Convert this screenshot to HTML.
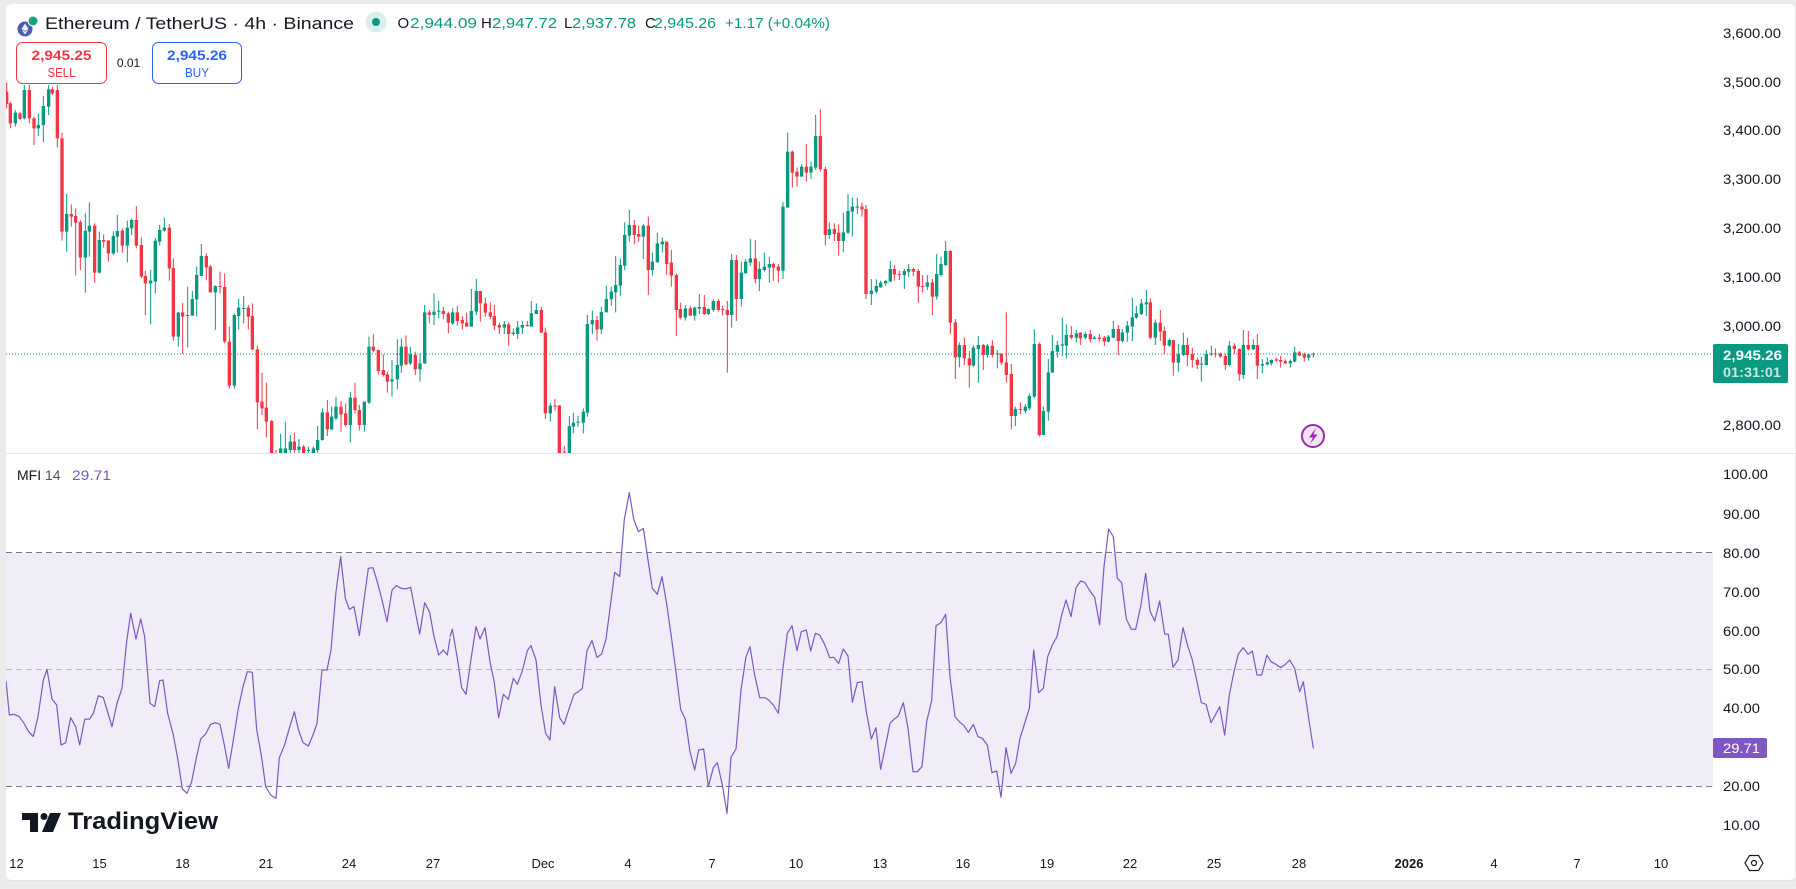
<!DOCTYPE html>
<html><head><meta charset="utf-8"><style>
html,body{margin:0;padding:0;background:#ebebeb;}
svg{display:block;font-family:"Liberation Sans",sans-serif;}
</style></head><body>
<svg width="1796" height="889" viewBox="0 0 1796 889" xmlns="http://www.w3.org/2000/svg">
<defs>
<clipPath id="cp"><rect x="6" y="4" width="1707" height="449"/></clipPath>
<clipPath id="cm"><rect x="6" y="454" width="1707" height="392"/></clipPath>
</defs>
<rect x="0" y="0" width="1796" height="889" fill="#ebebeb"/>
<rect x="6" y="4" width="1789" height="876" rx="6" fill="#ffffff"/>
<line x1="6" y1="453.5" x2="1795" y2="453.5" stroke="#e0e3eb" stroke-width="1"/>
<line x1="6" y1="880.5" x2="1795" y2="880.5" stroke="#e0e3eb" stroke-width="1"/>

<!-- price pane -->
<g clip-path="url(#cp)">
<line x1="6" y1="354" x2="1713" y2="354" stroke="#089981" stroke-width="1" stroke-dasharray="1 2"/>
<g transform="translate(0,60) scale(0.333333)">
<path fill="none" stroke="#f23645" stroke-width="3" d="M20 68V145 M31 125V205 M60 155V180 M88 75V190 M102 170V255 M157 80V105 M172 75V262 M186 218V542 M214 433V500 M227 445V646 M241 480V630 M284 490V668 M311 523V563 M325 540V605 M367 505V578 M409 438V565 M424 532V655 M436 632V765 M508 492V662 M520 595V842 M548 729V882 M619 580V660 M631 615V697 M660 635V700 M674 640V850 M688 800V986 M745 735V808 M757 730V870 M772 857V1108 M786 938V1065 M799 968V1132 M815 1080V1240 M828 1170V1250 M883 1118V1180 M911 1155V1195 M982 1020V1128 M1023 1023V1115 M1037 1030V1100 M1065 968V1060 M1078 1035V1112 M1120 822V877 M1135 868V943 M1150 883V950 M1162 935V998 M1218 826V916 M1246 875V945 M1288 750V790 M1330 740V778 M1345 755V820"/>
<path fill="#f23645" d="M15 95h10V132h-10Z M26 130h10V190h-10Z M55 160h10V177h-10Z M83 90h10V175h-10Z M97 175h10V205h-10Z M152 88h10V100h-10Z M167 90h10V235h-10Z M181 235h10V515h-10Z M209 462h10V470h-10Z M222 468h10V488h-10Z M236 486h10V593h-10Z M279 497h10V638h-10Z M306 540h10V545h-10Z M320 542h10V580h-10Z M362 512h10V557h-10Z M404 480h10V557h-10Z M419 555h10V650h-10Z M431 648h10V670h-10Z M503 503h10V625h-10Z M515 624h10V830h-10Z M543 757h10V770h-10Z M614 588h10V622h-10Z M626 620h10V697h-10Z M655 678h10V681h-10Z M669 681h10V845h-10Z M683 845h10V977h-10Z M740 743h10V770h-10Z M752 768h10V868h-10Z M767 868h10V1027h-10Z M781 1025h10V1045h-10Z M794 1043h10V1085h-10Z M810 1083h10V1190h-10Z M823 1185h10V1215h-10Z M878 1145h10V1170h-10Z M906 1160h10V1185h-10Z M977 1057h10V1108h-10Z M1018 1040h10V1063h-10Z M1032 1060h10V1095h-10Z M1060 1013h10V1050h-10Z M1073 1050h10V1095h-10Z M1115 860h10V872h-10Z M1130 870h10V933h-10Z M1145 930h10V945h-10Z M1157 943h10V965h-10Z M1213 860h10V913h-10Z M1241 885h10V928h-10Z M1283 757h10V765h-10Z M1325 753h10V762h-10Z M1340 760h10V788h-10Z"/>
<path fill="none" stroke="#089981" stroke-width="3" d="M46 150V200 M73 75V178 M115 160V228 M130 108V246 M146 75V165 M200 402V575 M256 460V698 M268 427V590 M298 515V640 M340 515V585 M352 465V578 M382 482V607 M395 476V525 M452 630V793 M466 534V700 M479 495V556 M493 473V515 M535 757V860 M563 680V862 M577 693V767 M590 620V770 M604 552V648 M646 676V810 M703 760V986 M716 716V808 M731 708V790 M842 1122V1200 M856 1085V1190 M871 1125V1180 M897 1137V1180 M925 1160V1190 M940 1160V1190 M953 1098V1180 M967 1045V1142 M995 1040V1110 M1008 1010V1080 M1051 996V1148 M1093 1025V1115 M1107 830V1032 M1176 900V1010 M1192 838V988 M1204 835V938 M1231 860V915 M1260 880V965 M1274 735V912 M1302 700V795 M1316 722V775"/>
<path fill="#089981" d="M41 158h10V190h-10Z M68 90h10V175h-10Z M110 195h10V205h-10Z M125 138h10V195h-10Z M141 88h10V140h-10Z M195 462h10V515h-10Z M251 513h10V593h-10Z M263 497h10V515h-10Z M293 540h10V638h-10Z M335 528h10V580h-10Z M347 513h10V530h-10Z M377 503h10V557h-10Z M390 480h10V505h-10Z M447 662h10V670h-10Z M461 542h10V665h-10Z M474 510h10V545h-10Z M488 503h10V512h-10Z M530 757h10V830h-10Z M558 765h10V768h-10Z M572 717h10V767h-10Z M585 645h10V718h-10Z M599 588h10V648h-10Z M641 678h10V697h-10Z M698 765h10V977h-10Z M711 743h10V768h-10Z M726 744h10V747h-10Z M837 1165h10V1190h-10Z M851 1165h10V1185h-10Z M866 1145h10V1170h-10Z M892 1160h10V1170h-10Z M920 1170h10V1173h-10Z M935 1165h10V1180h-10Z M948 1140h10V1170h-10Z M962 1057h10V1140h-10Z M990 1070h10V1108h-10Z M1003 1040h10V1075h-10Z M1046 1013h10V1095h-10Z M1088 1025h10V1095h-10Z M1102 860h10V1028h-10Z M1171 958h10V965h-10Z M1187 915h10V958h-10Z M1199 860h10V917h-10Z M1226 883h10V910h-10Z M1255 910h10V928h-10Z M1269 757h10V910h-10Z M1297 755h10V765h-10Z M1311 752h10V755h-10Z"/>
</g>
<g transform="translate(440,60) scale(0.333333)">
<path fill="none" stroke="#f23645" stroke-width="3" d="M52 738V797 M67 768V808 M80 758V800 M121 693V785 M136 713V770 M151 727V777 M163 735V810 M178 787V822 M206 787V857 M262 783V800 M304 740V818 M316 803V1077 M345 1017V1052 M358 1035V1230 M373 1158V1200 M471 768V842 M583 480V552 M596 497V545 M625 470V705 M680 545V645 M694 570V680 M709 640V828 M721 728V778 M751 738V768 M793 705V765 M835 717V755 M848 737V767 M862 723V938 M889 585V783 M946 540V670 M1000 608V663 M1015 612V667 M1057 272V383 M1071 322V380 M1099 252V365 M1141 148V335 M1156 320V557 M1183 490V543 M1196 493V587 M1266 427V470 M1278 435V717"/>
<path fill="#f23645" d="M47 757h10V783h-10Z M62 780h10V790h-10Z M75 788h10V800h-10Z M116 693h10V730h-10Z M131 730h10V758h-10Z M146 757h10V770h-10Z M158 768h10V797h-10Z M173 795h10V803h-10Z M201 793h10V822h-10Z M257 795h10V798h-10Z M299 750h10V818h-10Z M311 817h10V1060h-10Z M340 1037h10V1040h-10Z M353 1037h10V1200h-10Z M368 1175h10V1178h-10Z M466 780h10V808h-10Z M578 495h10V525h-10Z M591 522h10V530h-10Z M620 497h10V630h-10Z M675 545h10V612h-10Z M689 608h10V647h-10Z M704 645h10V750h-10Z M716 747h10V773h-10Z M746 745h10V767h-10Z M788 741h10V762h-10Z M830 723h10V750h-10Z M843 747h10V750h-10Z M857 750h10V765h-10Z M884 600h10V717h-10Z M941 595h10V657h-10Z M995 612h10V623h-10Z M1010 620h10V632h-10Z M1052 275h10V338h-10Z M1066 335h10V350h-10Z M1094 320h10V338h-10Z M1136 228h10V328h-10Z M1151 327h10V525h-10Z M1178 507h10V522h-10Z M1191 518h10V543h-10Z M1261 440h10V448h-10Z M1273 447h10V702h-10Z"/>
<path fill="none" stroke="#089981" stroke-width="3" d="M38 745V795 M94 687V800 M109 657V765 M193 783V822 M220 805V827 M233 783V837 M247 783V822 M274 723V800 M289 730V762 M331 1030V1085 M388 1068V1200 M400 1058V1120 M414 1068V1100 M430 1045V1120 M442 765V1070 M457 752V822 M484 740V822 M499 677V757 M514 680V737 M527 588V757 M541 595V707 M554 487V630 M568 450V545 M610 492V597 M637 578V647 M652 518V607 M667 533V578 M736 735V782 M764 740V782 M778 702V762 M805 745V765 M820 718V755 M875 582V803 M904 605V740 M917 597V640 M931 537V617 M958 605V693 M973 578V635 M988 590V668 M1029 427V657 M1043 218V443 M1085 312V350 M1113 305V357 M1127 165V330 M1168 487V537 M1210 458V577 M1224 402V522 M1237 413V530 M1252 413V462 M1294 657V735 M1309 658V700 M1322 662V683"/>
<path fill="#089981" d="M33 757h10V790h-10Z M89 753h10V800h-10Z M104 693h10V755h-10Z M188 793h10V803h-10Z M215 818h10V822h-10Z M228 802h10V822h-10Z M242 795h10V803h-10Z M269 760h10V800h-10Z M284 750h10V762h-10Z M326 1037h10V1060h-10Z M383 1098h10V1190h-10Z M395 1088h10V1100h-10Z M409 1085h10V1088h-10Z M425 1055h10V1088h-10Z M437 792h10V1058h-10Z M452 780h10V793h-10Z M479 756h10V808h-10Z M494 717h10V757h-10Z M509 695h10V718h-10Z M522 675h10V697h-10Z M536 615h10V677h-10Z M549 525h10V617h-10Z M563 495h10V527h-10Z M605 497h10V530h-10Z M632 605h10V630h-10Z M647 550h10V607h-10Z M662 545h10V553h-10Z M731 745h10V773h-10Z M759 743h10V767h-10Z M773 741h10V746h-10Z M800 747h10V762h-10Z M815 723h10V750h-10Z M870 600h10V765h-10Z M899 638h10V717h-10Z M912 605h10V640h-10Z M926 595h10V608h-10Z M953 627h10V657h-10Z M968 620h10V630h-10Z M983 612h10V623h-10Z M1024 440h10V632h-10Z M1038 275h10V443h-10Z M1080 320h10V350h-10Z M1108 320h10V338h-10Z M1122 228h10V323h-10Z M1163 507h10V525h-10Z M1205 517h10V543h-10Z M1219 453h10V518h-10Z M1232 440h10V455h-10Z M1247 440h10V443h-10Z M1289 692h10V702h-10Z M1304 678h10V695h-10Z M1317 668h10V682h-10Z"/>
</g>
<g transform="translate(880,60) scale(0.333333)">
<path fill="none" stroke="#f23645" stroke-width="3" d="M43 615V662 M58 632V660 M100 623V648 M115 627V728 M128 645V698 M157 657V765 M211 570V822 M226 777V957 M253 833V915 M268 873V983 M310 852V930 M337 840V893 M364 880V915 M379 757V968 M394 912V1108 M421 1027V1063 M478 848V1130 M574 798V838 M601 817V855 M631 810V847 M658 822V845 M673 828V858 M715 795V885 M811 715V838 M841 750V843 M853 800V883 M880 840V947 M922 833V918 M937 863V923 M952 892V927 M1006 865V893 M1021 878V893 M1036 882V930 M1063 850V882 M1078 865V962 M1105 813V872 M1132 822V957 M1189 893V907 M1202 888V923 M1216 898V912 M1258 873V888 M1273 878V905"/>
<path fill="#f23645" d="M38 627h10V643h-10Z M53 642h10V645h-10Z M95 627h10V635h-10Z M110 633h10V680h-10Z M123 678h10V681h-10Z M152 667h10V710h-10Z M206 573h10V788h-10Z M221 787h10V892h-10Z M248 855h10V895h-10Z M263 895h10V917h-10Z M305 855h10V885h-10Z M332 857h10V885h-10Z M359 880h10V908h-10Z M374 907h10V945h-10Z M389 942h10V1068h-10Z M416 1047h10V1050h-10Z M473 852h10V1125h-10Z M569 825h10V833h-10Z M596 818h10V835h-10Z M626 822h10V838h-10Z M653 833h10V837h-10Z M668 833h10V845h-10Z M710 807h10V843h-10Z M806 727h10V833h-10Z M836 788h10V815h-10Z M848 813h10V857h-10Z M875 840h10V908h-10Z M917 855h10V885h-10Z M932 882h10V900h-10Z M947 900h10V915h-10Z M1001 880h10V883h-10Z M1016 880h10V890h-10Z M1031 888h10V915h-10Z M1058 857h10V867h-10Z M1073 867h10V943h-10Z M1100 855h10V868h-10Z M1127 855h10V917h-10Z M1184 898h10V902h-10Z M1197 900h10V905h-10Z M1211 903h10V910h-10Z M1253 877h10V887h-10Z M1268 883h10V893h-10Z"/>
<path fill="none" stroke="#089981" stroke-width="3" d="M17 660V677 M31 603V665 M73 627V687 M86 612V650 M142 645V690 M170 582V718 M183 590V650 M197 543V618 M238 847V922 M280 855V920 M295 828V968 M322 852V893 M352 870V925 M406 1040V1098 M436 1033V1060 M448 1000V1050 M463 808V1015 M490 1040V1125 M505 897V1082 M517 825V938 M532 843V893 M547 773V888 M559 793V895 M589 810V847 M616 815V838 M643 828V838 M685 825V847 M700 783V835 M727 807V848 M742 783V845 M757 713V843 M769 738V775 M784 717V765 M799 690V768 M826 778V855 M868 835V860 M895 852V935 M910 818V888 M964 890V965 M979 870V917 M994 857V888 M1048 843V920 M1090 810V957 M1120 838V870 M1147 897V940 M1162 892V917 M1174 898V917 M1231 898V923 M1244 860V907 M1286 880V902 M1300 878V893"/>
<path fill="#089981" d="M12 663h10V670h-10Z M26 627h10V665h-10Z M68 633h10V645h-10Z M81 627h10V635h-10Z M137 667h10V680h-10Z M165 642h10V710h-10Z M178 612h10V645h-10Z M192 573h10V615h-10Z M233 855h10V892h-10Z M275 863h10V917h-10Z M290 855h10V867h-10Z M317 857h10V885h-10Z M347 880h10V883h-10Z M401 1047h10V1068h-10Z M431 1040h10V1053h-10Z M443 1008h10V1045h-10Z M458 852h10V1010h-10Z M485 1053h10V1125h-10Z M500 937h10V1055h-10Z M512 873h10V938h-10Z M527 855h10V875h-10Z M542 853h10V857h-10Z M554 825h10V857h-10Z M584 820h10V833h-10Z M611 822h10V833h-10Z M638 833h10V837h-10Z M680 830h10V845h-10Z M695 807h10V833h-10Z M722 817h10V843h-10Z M737 797h10V818h-10Z M752 772h10V800h-10Z M764 760h10V773h-10Z M779 730h10V762h-10Z M794 727h10V733h-10Z M821 788h10V833h-10Z M863 840h10V857h-10Z M890 883h10V908h-10Z M905 855h10V885h-10Z M959 911h10V914h-10Z M974 882h10V915h-10Z M989 880h10V883h-10Z M1043 857h10V915h-10Z M1085 855h10V945h-10Z M1115 855h10V868h-10Z M1142 912h10V917h-10Z M1157 907h10V913h-10Z M1169 900h10V910h-10Z M1226 903h10V910h-10Z M1239 877h10V905h-10Z M1281 883h10V893h-10Z M1295 881h10V884h-10Z"/>
</g>
</g>

<!-- header -->
<circle cx="25" cy="29" r="7.5" fill="#4b5bb5"/>
<path d="M25 23.5 L28.5 29 L25 31 L21.5 29 Z M25 31.8 L28.5 29.8 L25 34.5 L21.5 29.8 Z" fill="#ffffff" opacity="0.9"/>
<circle cx="33" cy="21" r="5" fill="#1ea182" stroke="#ffffff" stroke-width="1"/>
<text x="45" y="29" font-size="17" fill="#131722" textLength="309" lengthAdjust="spacingAndGlyphs">Ethereum / TetherUS · 4h · Binance</text>
<circle cx="376" cy="22" r="10.5" fill="#d9efeb"/>
<circle cx="376" cy="22" r="4" fill="#089981"/>
<g font-size="15">
<text x="397.5" y="28" fill="#131722">O</text>
<text x="410" y="28" fill="#089981" textLength="67" lengthAdjust="spacingAndGlyphs">2,944.09</text>
<text x="481" y="28" fill="#131722">H</text>
<text x="492" y="28" fill="#089981" textLength="65" lengthAdjust="spacingAndGlyphs">2,947.72</text>
<text x="564" y="28" fill="#131722">L</text>
<text x="572" y="28" fill="#089981" textLength="64" lengthAdjust="spacingAndGlyphs">2,937.78</text>
<text x="645" y="28" fill="#131722">C</text>
<text x="654" y="28" fill="#089981" textLength="62" lengthAdjust="spacingAndGlyphs">2,945.26</text>
<text x="725" y="28" fill="#089981" textLength="105" lengthAdjust="spacingAndGlyphs">+1.17 (+0.04%)</text>
</g>

<!-- sell / buy -->
<rect x="16.5" y="42.5" width="90" height="41" rx="6" fill="#ffffff" fill-opacity="0.92" stroke="#f23645" stroke-width="1"/>
<text x="61.5" y="60" font-size="14" font-weight="bold" fill="#f23645" text-anchor="middle" textLength="60" lengthAdjust="spacingAndGlyphs">2,945.25</text>
<text x="61.5" y="77" font-size="13" fill="#f23645" text-anchor="middle" textLength="28" lengthAdjust="spacingAndGlyphs">SELL</text>
<text x="128.5" y="67" font-size="12" fill="#131722" text-anchor="middle">0.01</text>
<rect x="152.5" y="42.5" width="89" height="41" rx="6" fill="#ffffff" fill-opacity="0.92" stroke="#2962ff" stroke-width="1"/>
<text x="197" y="60" font-size="14" font-weight="bold" fill="#2962ff" text-anchor="middle" textLength="60" lengthAdjust="spacingAndGlyphs">2,945.26</text>
<text x="197" y="77" font-size="13" fill="#2962ff" text-anchor="middle" textLength="24" lengthAdjust="spacingAndGlyphs">BUY</text>

<!-- price axis -->
<g font-size="14" fill="#131722">
<text x="1723" y="38" textLength="58" lengthAdjust="spacingAndGlyphs">3,600.00</text>
<text x="1723" y="87" textLength="58" lengthAdjust="spacingAndGlyphs">3,500.00</text>
<text x="1723" y="135" textLength="58" lengthAdjust="spacingAndGlyphs">3,400.00</text>
<text x="1723" y="184" textLength="58" lengthAdjust="spacingAndGlyphs">3,300.00</text>
<text x="1723" y="233" textLength="58" lengthAdjust="spacingAndGlyphs">3,200.00</text>
<text x="1723" y="282" textLength="58" lengthAdjust="spacingAndGlyphs">3,100.00</text>
<text x="1723" y="331" textLength="58" lengthAdjust="spacingAndGlyphs">3,000.00</text>
<text x="1723" y="430" textLength="58" lengthAdjust="spacingAndGlyphs">2,800.00</text>
</g>
<rect x="1713" y="344" width="75" height="39" rx="2" fill="#089981"/>
<text x="1723" y="360" font-size="14" font-weight="bold" fill="#ffffff" textLength="59" lengthAdjust="spacingAndGlyphs">2,945.26</text>
<text x="1723" y="377" font-size="14" font-weight="bold" fill="#c4e8e0" textLength="58" lengthAdjust="spacingAndGlyphs">01:31:01</text>

<!-- lightning icon -->
<circle cx="1313" cy="436" r="11" fill="#f3e5f5" stroke="#9c27b0" stroke-width="2"/>
<path d="M1316 428 L1309 437.5 L1313 437.5 L1310 444 L1317.5 434.5 L1313.5 434.5 Z" fill="#9c27b0"/>

<!-- MFI pane -->
<g clip-path="url(#cm)">
<rect x="6" y="552.5" width="1707" height="234" fill="#f0ecf8"/>
<line x1="6" y1="552.5" x2="1713" y2="552.5" stroke="#787b86" stroke-width="1" stroke-dasharray="6 4"/>
<line x1="6" y1="669.5" x2="1713" y2="669.5" stroke="#b8bac2" stroke-width="1" stroke-dasharray="6 4"/>
<line x1="6" y1="786.5" x2="1713" y2="786.5" stroke="#787b86" stroke-width="1" stroke-dasharray="6 4"/>
<g transform="translate(0,460) scale(0.333333)" fill="none" stroke="#7e57c2" stroke-width="3.6" stroke-linejoin="round">
<polyline points="18,662 28,765 42,763 58,770 72,790 86,815 100,830 114,770 130,660 141,628 156,717 170,735 183,855 197,848 212,773 227,800 239,855 254,778 269,777 280,760 295,707 310,713 336,800 351,730 366,685 380,545 392,460 408,537 422,477 434,530 450,730 464,740 479,662 489,660 503,760 520,825 533,895 547,987 561,1000 575,965 589,893 602,837 617,822 632,793 646,788 660,793 673,855 686,925 700,840 715,745 729,680 742,635 757,637 770,808 785,893 797,980 812,1005 828,1015 838,893 853,857 868,805 883,755 895,808 909,848 925,858 939,825 951,790 966,630 981,630 993,570 1008,395 1022,290 1036,415 1048,448 1062,440 1078,527 1092,420 1105,325 1119,323 1133,370 1146,420 1161,485 1176,390 1189,377 1203,385 1217,387 1232,382 1245,450 1259,522 1274,428 1289,457 1301,525 1316,585 1330,570 1342,585 1350,535"/>
</g>
<g transform="translate(440,460) scale(0.333333)" fill="none" stroke="#7e57c2" stroke-width="3.6" stroke-linejoin="round">
<polyline points="30,530 37,508 52,595 65,683 78,703 93,598 108,500 120,537 135,503 150,605 163,668 176,773 190,703 205,718 220,655 232,673 247,633 262,572 273,557 288,600 303,735 317,820 330,840 344,680 359,773 372,793 386,750 402,703 415,695 427,685 441,572 456,542 471,592 485,582 498,537 512,430 524,337 539,350 553,178 568,98 581,177 595,215 610,205 624,300 637,385 652,403 666,350 680,432 694,530 708,637 722,748 736,778 750,875 764,930 776,870 791,867 805,980 820,923 832,908 847,975 861,1060 873,892 888,867 903,690 918,590 930,560 944,645 959,713 974,713 986,720 1000,735 1015,760 1029,623 1042,520 1056,497 1071,572 1084,515 1099,510 1112,573 1126,520 1139,525 1154,553 1169,593 1181,592 1196,610 1210,567 1224,588 1237,727 1252,668 1266,665 1279,755 1294,837 1308,803 1322,928 1336,860 1350,790"/>
</g>
<g transform="translate(880,460) scale(0.333333)" fill="none" stroke="#7e57c2" stroke-width="3.6" stroke-linejoin="round">
<polyline points="30,790 42,778 55,768 70,728 84,805 99,935 112,935 126,920 140,785 155,722 168,497 183,488 197,463 210,650 225,770 238,785 252,797 265,817 280,793 294,830 307,835 322,855 336,938 350,933 363,1012 378,863 393,940 407,910 420,835 434,790 448,745 461,570 476,698 490,685 503,590 517,555 531,530 545,465 558,420 573,470 588,383 602,363 614,367 628,390 644,412 659,495 672,320 686,207 700,230 712,355 725,368 739,477 754,508 767,508 782,440 797,340 810,453 824,483 839,423 854,522 865,523 879,622 894,600 909,503 923,557 937,600 951,665 964,728 978,733 993,788 1006,765 1019,740 1034,825 1048,705 1062,635 1075,582 1090,563 1104,583 1117,573 1131,645 1145,645 1161,585 1173,605 1188,613 1202,623 1216,613 1229,600 1244,625 1259,695 1270,665 1286,775 1300,865"/>
</g>
</g>
<text x="17" y="480" font-size="14" fill="#131722">MFI <tspan fill="#50535e">14</tspan></text>
<text x="72" y="480" font-size="14" fill="#7e57c2" textLength="39" lengthAdjust="spacingAndGlyphs">29.71</text>

<!-- MFI axis -->
<g font-size="14" fill="#131722">
<text x="1723" y="479" textLength="45" lengthAdjust="spacingAndGlyphs">100.00</text>
<text x="1723" y="519" textLength="37" lengthAdjust="spacingAndGlyphs">90.00</text>
<text x="1723" y="558" textLength="37" lengthAdjust="spacingAndGlyphs">80.00</text>
<text x="1723" y="597" textLength="37" lengthAdjust="spacingAndGlyphs">70.00</text>
<text x="1723" y="636" textLength="37" lengthAdjust="spacingAndGlyphs">60.00</text>
<text x="1723" y="674" textLength="37" lengthAdjust="spacingAndGlyphs">50.00</text>
<text x="1723" y="713" textLength="37" lengthAdjust="spacingAndGlyphs">40.00</text>
<text x="1723" y="791" textLength="37" lengthAdjust="spacingAndGlyphs">20.00</text>
<text x="1723" y="830" textLength="37" lengthAdjust="spacingAndGlyphs">10.00</text>
</g>
<rect x="1713" y="738" width="54" height="20" rx="2" fill="#7e57c2"/>
<text x="1723" y="753" font-size="14" fill="#ffffff" textLength="37" lengthAdjust="spacingAndGlyphs">29.71</text>

<!-- TradingView logo -->
<path d="M22 813 H38 V832 H30 V820 H22 Z" fill="#131722"/>
<circle cx="44" cy="816.5" r="3.5" fill="#131722"/>
<path d="M50 813 H61 L53 832 H42 Z" fill="#131722"/>
<text x="68" y="829" font-size="24" font-weight="bold" fill="#131722" textLength="150" lengthAdjust="spacingAndGlyphs">TradingView</text>

<!-- time axis -->
<g font-size="13" fill="#131722" text-anchor="middle">
<text x="16.5" y="868">12</text>
<text x="99.5" y="868">15</text>
<text x="182.5" y="868">18</text>
<text x="266" y="868">21</text>
<text x="349" y="868">24</text>
<text x="433" y="868">27</text>
<text x="543" y="868">Dec</text>
<text x="628" y="868">4</text>
<text x="712" y="868">7</text>
<text x="796" y="868">10</text>
<text x="880" y="868">13</text>
<text x="963" y="868">16</text>
<text x="1047" y="868">19</text>
<text x="1130" y="868">22</text>
<text x="1214" y="868">25</text>
<text x="1299" y="868">28</text>
<text x="1409" y="868" font-weight="bold">2026</text>
<text x="1494" y="868">4</text>
<text x="1577" y="868">7</text>
<text x="1661" y="868">10</text>
</g>
<path d="M1749.5 855.5 L1758.5 855.5 L1763 863 L1758.5 870.5 L1749.5 870.5 L1745 863 Z" fill="none" stroke="#131722" stroke-width="1.2"/>
<circle cx="1754" cy="863" r="2.5" fill="none" stroke="#131722" stroke-width="1.2"/>
</svg>
</body></html>
